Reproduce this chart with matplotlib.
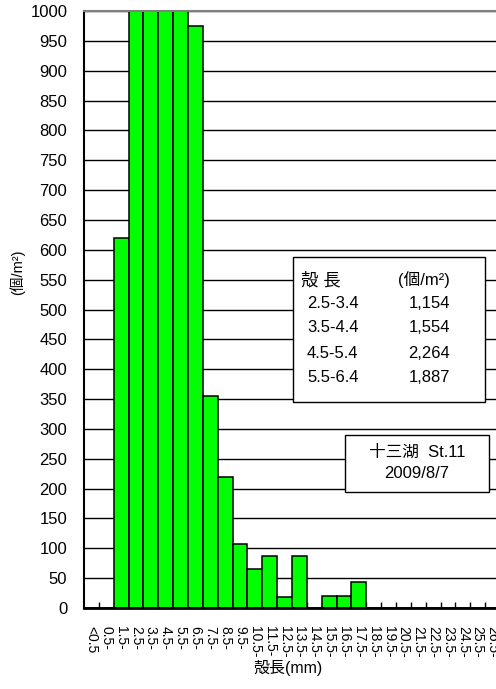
import numpy as np
import matplotlib
matplotlib.use('Agg')
import matplotlib.pyplot as plt
from matplotlib.patches import Rectangle

plt.rcParams['font.family'] = ['Liberation Sans', 'Noto Sans CJK JP', 'DejaVu Sans']

# shell length classes (mm) and density (ind/m2)
cats = ['<0.5', '0.5-', '1.5-', '2.5-', '3.5-', '4.5-', '5.5-', '6.5-', '7.5-',
        '8.5-', '9.5-', '10.5-', '11.5-', '12.5-', '13.5-', '14.5-', '15.5-',
        '16.5-', '17.5-', '18.5-', '19.5-', '20.5-', '21.5-', '22.5-', '23.5-',
        '24.5-', '25.5-', '26.5-']
dens = [0, 0, 620, 1154, 1554, 2264, 1887, 975, 355, 220, 108, 65, 87, 19,
        87, 0, 20, 20, 44, 0, 0, 0, 0, 0, 0, 0, 0, 0]

# inset table (values beyond the axis top)
tab_rng = ['2.5-3.4', '3.5-4.4', '4.5-5.4', '5.5-6.4']
tab_val = ['1,154', '1,554', '2,264', '1,887']

W, H = 496, 689
def fx(x):
    return x / W
def fy(y):
    return 1 - y / H

fig = plt.figure(figsize=(W / 100, H / 100), dpi=100)
ax = fig.add_axes([fx(84), fy(608), (500 - 84) / W, (608 - 11) / H])

x = np.arange(len(cats))
ax.bar(x, dens, width=1.0, color='#00ff00', edgecolor='black', linewidth=1.1)
ax.set_xlim(-0.5, len(cats) - 0.5)
ax.set_ylim(0, 1000)

ax.set_yticks(np.arange(0, 1001, 50))
ax.yaxis.grid(True, color='black', linewidth=1)
ax.set_axisbelow(True)
ax.tick_params(axis='y', length=0, pad=12, labelsize=12)

ax.set_xticks(x)
ax.set_xticklabels(cats, rotation=-90, ha='center', va='top', fontsize=10)
ax.tick_params(axis='x', which='major', length=0, pad=13)
ax.set_xticks(x[1:] - 0.5, minor=True)
ax.tick_params(axis='x', which='minor', direction='in', length=4, width=1, color='black')

ax.spines['right'].set_visible(False)
ax.spines['top'].set_color('#808080')
ax.spines['top'].set_linewidth(1.5)
ax.spines['left'].set_linewidth(1.5)
ax.spines['bottom'].set_linewidth(2)

fig.text(fx(17), fy(272), '(個/m²)', rotation=90, ha='center', va='center', fontsize=10.5)
fig.text(fx(288), fy(668), '殻長(mm)', ha='center', va='center', fontsize=11.5)

# table box
fig.add_artist(Rectangle((fx(293), fy(402)), (485 - 293) / W, (402 - 257) / H,
                         transform=fig.transFigure, facecolor='white',
                         edgecolor='black', linewidth=1, zorder=2))
fig.text(fx(321), fy(280), '殻 長', ha='center', va='center', fontsize=12.5, zorder=3)
fig.text(fx(424), fy(280), '(個/m²)', ha='center', va='center', fontsize=12, zorder=3)
rows_y = [303, 327, 353, 378]
for i in range(len(tab_rng)):
    fig.text(fx(307), fy(rows_y[i]), tab_rng[i], ha='left', va='center', fontsize=12, zorder=3)
    fig.text(fx(429), fy(rows_y[i]), tab_val[i], ha='center', va='center', fontsize=12, zorder=3)

# station box
fig.add_artist(Rectangle((fx(345), fy(492)), (489 - 345) / W, (492 - 435) / H,
                         transform=fig.transFigure, facecolor='white',
                         edgecolor='black', linewidth=1, zorder=2))
fig.text(fx(417), fy(452), '十三湖  St.11', ha='center', va='center', fontsize=12, zorder=3)
fig.text(fx(417), fy(474), '2009/8/7', ha='center', va='center', fontsize=12, zorder=3)

fig.savefig('out.png', dpi=100)
